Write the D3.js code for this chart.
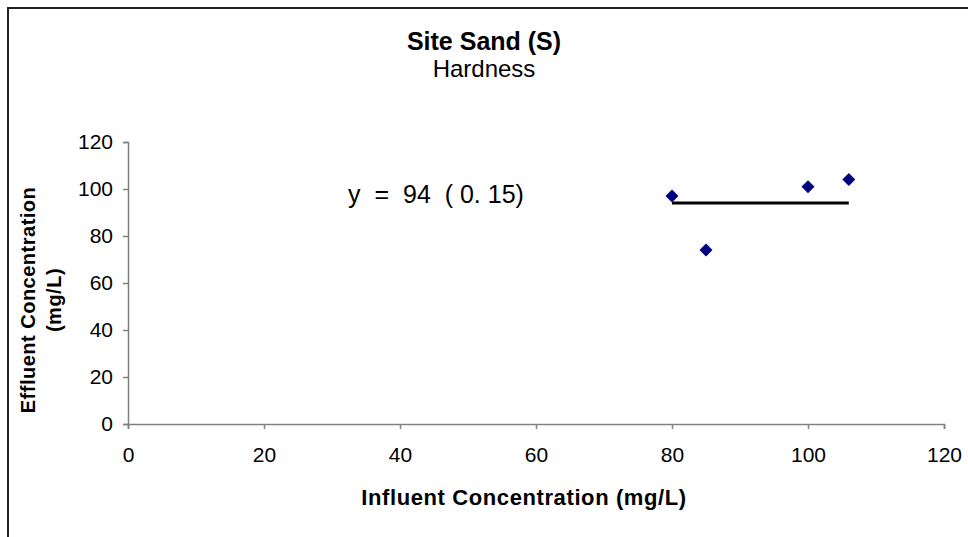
<!DOCTYPE html>
<html>
<head>
<meta charset="utf-8">
<script src="https://cdn.jsdelivr.net/npm/d3@7"></script>
<style>
  body { margin: 0; background: #fff; }
  text { font-family: "Liberation Sans", Arial, sans-serif; }
</style>
</head>
<body>
<svg id="chart"></svg>
<script>
// influent vs effluent hardness
const influent = [80, 85, 100, 106];
const effluent = [97, 74, 101, 104];
const fitLevel = 94;
const fitRange = [80, 106];
const xTicks = [0, 20, 40, 60, 80, 100, 120];
const yTicks = [0, 20, 40, 60, 80, 100, 120];

const width = 968, height = 537;
const margin = {top: 142, right: 24, bottom: 113, left: 128};

const svg = d3.select('#chart')
    .attr('width', width)
    .attr('height', height);

// frame (only left and top edges show)
svg.append('path')
    .attr('d', `M8,${height} L8,8 L${width},8`)
    .attr('fill', 'none')
    .attr('stroke', '#222')
    .attr('stroke-width', 2);

const x = d3.scaleLinear().domain([0, 120]).range([margin.left, width - margin.right]);
const y = d3.scaleLinear().domain([0, 120]).range([height - margin.bottom, margin.top]);

const xAxis = svg.append('g')
    .attr('transform', `translate(0, ${y(0)})`)
    .call(d3.axisBottom(x).tickValues(xTicks).tickSize(5).tickPadding(18));
const yAxis = svg.append('g')
    .attr('transform', `translate(${x(0)}, 0)`)
    .call(d3.axisLeft(y).tickValues(yTicks).tickSize(5).tickPadding(10));

[xAxis, yAxis].forEach(g => {
    g.select('.domain').attr('stroke', '#808080').attr('stroke-width', 1.5);
    g.selectAll('.tick line').attr('stroke', '#808080').attr('stroke-width', 1.5);
    g.selectAll('.tick text')
        .attr('font-size', 21)
        .attr('fill', '#000')
        .style('font-family', '"Liberation Sans", Arial, sans-serif');
});

// fitted constant line
svg.append('line')
    .attr('x1', x(fitRange[0])).attr('x2', x(fitRange[1]))
    .attr('y1', y(fitLevel)).attr('y2', y(fitLevel))
    .attr('stroke', '#000')
    .attr('stroke-width', 3);

// data points as diamonds
const diamond = d3.symbol().type(d3.symbolSquare).size(84);
svg.selectAll('.pt')
    .data(influent.map((v, i) => ({x: v, y: effluent[i]})))
    .enter()
    .append('path')
    .attr('class', 'pt')
    .attr('d', diamond)
    .attr('transform', d => `translate(${x(d.x)}, ${y(d.y)}) rotate(45)`)
    .attr('fill', '#000080');

// equation label
svg.append('text')
    .attr('x', 436).attr('y', 203)
    .attr('text-anchor', 'middle')
    .attr('font-size', 25)
    .attr('xml:space', 'preserve')
    .style('white-space', 'pre')
    .text('y  =  94  ( 0. 15)');

// titles
svg.append('text')
    .attr('x', 484).attr('y', 50)
    .attr('text-anchor', 'middle')
    .attr('font-size', 25)
    .attr('font-weight', 'bold')
    .text('Site Sand (S)');
svg.append('text')
    .attr('x', 484).attr('y', 77)
    .attr('text-anchor', 'middle')
    .attr('font-size', 24)
    .text('Hardness');

svg.append('text')
    .attr('x', 524).attr('y', 505)
    .attr('text-anchor', 'middle')
    .attr('font-size', 22)
    .attr('font-weight', 'bold')
    .attr('letter-spacing', 0.6)
    .text('Influent Concentration (mg/L)');

const yLabel = svg.append('text')
    .attr('transform', 'translate(35, 300) rotate(-90)')
    .attr('text-anchor', 'middle')
    .attr('font-size', 20)
    .attr('font-weight', 'bold')
    .attr('letter-spacing', 0.5);
yLabel.append('tspan').attr('x', 0).attr('dy', 0).text('Effluent Concentration');
yLabel.append('tspan').attr('x', 0).attr('dy', 26).text('(mg/L)');
</script>
</body>
</html>
